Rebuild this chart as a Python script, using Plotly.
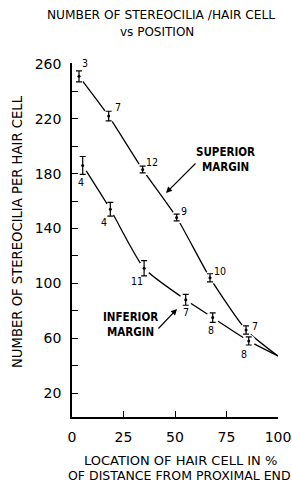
import plotly.graph_objects as go

# Data
sup_x = [3.4, 17.8, 34.3, 50.8, 67.0, 84.5]
sup_y = [251, 222, 183, 148, 104, 66]
sup_err = [4, 3.5, 2.5, 2.5, 3, 3]
sup_n = ["3", "7", "12", "9", "10", "7"]

inf_x = [5.2, 18.6, 35.0, 55.2, 68.3, 85.8]
inf_y = [186, 154, 111, 88, 75, 58]
inf_err = [6.5, 5, 5.5, 4, 3.5, 3]
inf_n = ["4", "4", "11", "7", "8", "8"]

end_x = [100]
end_y = [47]

x_ticks = [0, 25, 50, 75, 100]
y_ticks = [20, 60, 100, 140, 180, 220, 260]
y_minor = [40, 80, 120, 160, 200, 240]

FONT = "DejaVu Sans Condensed"
WIDE = "DejaVu Sans"

W, H = 292, 485
L, T = 72, 63
PW, PH = 206, 354
R, B = W - L - PW, H - T - PH

fig = go.Figure()

for xs, ys in [(sup_x, sup_y), (inf_x, inf_y)]:
    fig.add_trace(go.Scatter(x=xs + end_x, y=ys + end_y, mode="lines",
                             line=dict(color="black", width=1.3, shape="spline", smoothing=0.6),
                             hoverinfo="skip", showlegend=False))
for xs, ys in [(sup_x, sup_y), (inf_x, inf_y)]:
    fig.add_trace(go.Scatter(x=xs, y=ys, mode="markers",
                             marker=dict(color="white", size=13),
                             hoverinfo="skip", showlegend=False))
for xs, ys, es in [(sup_x, sup_y, sup_err), (inf_x, inf_y, inf_err)]:
    fig.add_trace(go.Scatter(x=xs, y=ys, mode="markers",
                             marker=dict(color="black", size=3),
                             error_y=dict(type="data", array=es, visible=True,
                                          color="black", thickness=1.2, width=3),
                             showlegend=False))

sup_off = [(6, 13), (9, 9), (9, 8), (7, 7), (10, 7), (9, 4)]
inf_off = [(-2, -17), (-6, -13), (-7, -13), (0, -12), (-2, -12), (-5, -13)]
for xs, ys, ns, offs in [(sup_x, sup_y, sup_n, sup_off), (inf_x, inf_y, inf_n, inf_off)]:
    for x, y, n, (dx, dy) in zip(xs, ys, ns, offs):
        fig.add_annotation(x=x, y=y, text=n, showarrow=False, xshift=dx, yshift=dy,
                           font=dict(family=FONT, size=10.5, color="black"))

def px2x(px):
    return (px - 72) / 2.06

def px2y(py):
    return 260 - (py - 64) / 1.371

def ppx(px):  # page px -> paper x
    return (px - L) / PW

def ppy(py):  # page px -> paper y
    return 1 - (py - T) / PH

fig.add_annotation(x=px2x(166), y=px2y(193), ax=px2x(197), ay=px2y(162),
                   axref="x", ayref="y", showarrow=True, arrowhead=2, arrowsize=1,
                   arrowwidth=1.2, arrowcolor="black", text="")
fig.add_annotation(x=px2x(225), y=px2y(160), text="<b>SUPERIOR<br>MARGIN</b>", showarrow=False,
                   font=dict(family=FONT, size=11.5, color="black"))
fig.add_annotation(x=px2x(177), y=px2y(309), ax=px2x(157), ay=px2y(330),
                   axref="x", ayref="y", showarrow=True, arrowhead=2, arrowsize=1,
                   arrowwidth=1.2, arrowcolor="black", text="")
fig.add_annotation(x=px2x(130), y=px2y(325), text="<b>INFERIOR<br>MARGIN</b>", showarrow=False,
                   font=dict(family=FONT, size=11.5, color="black"))

# Titles as annotations in paper coords
fig.add_annotation(x=ppx(160.5), y=ppy(15), xref="paper", yref="paper", showarrow=False,
                   text="NUMBER OF STEREOCILIA /HAIR CELL", xanchor="center", yanchor="middle",
                   font=dict(family=WIDE, size=12.2, color="black"))
fig.add_annotation(x=ppx(157), y=ppy(32), xref="paper", yref="paper", showarrow=False,
                   text="vs POSITION", xanchor="center", yanchor="middle",
                   font=dict(family=WIDE, size=12, color="black"))
fig.add_annotation(x=ppx(17), y=ppy(232), xref="paper", yref="paper", showarrow=False,
                   text="NUMBER OF STEREOCILIA PER HAIR CELL", textangle=-90,
                   xanchor="center", yanchor="middle",
                   font=dict(family=WIDE, size=13.2, color="black"))
fig.add_annotation(x=ppx(180), y=ppy(460), xref="paper", yref="paper", showarrow=False,
                   text="LOCATION OF HAIR CELL IN %", xanchor="center", yanchor="middle",
                   font=dict(family=WIDE, size=13, color="black"))
fig.add_annotation(x=ppx(179.5), y=ppy(475), xref="paper", yref="paper", showarrow=False,
                   text="OF DISTANCE FROM PROXIMAL END", xanchor="center", yanchor="middle",
                   font=dict(family=WIDE, size=12.5, color="black"))

fig.update_layout(
    width=W, height=H,
    margin=dict(l=L, r=R, t=T, b=B, autoexpand=False),
    paper_bgcolor="white", plot_bgcolor="white",
    font=dict(family=WIDE, color="black"),
    xaxis=dict(range=[0, 100], tickvals=x_ticks, ticks="inside", ticklen=6,
               showline=True, linecolor="black", linewidth=1.5, showgrid=False, zeroline=False,
               tickfont=dict(size=14), tickcolor="black", ticklabelstandoff=6,
               automargin=False),
    yaxis=dict(range=[2.5, 260.7], tickvals=y_ticks, ticks="inside", ticklen=6,
               showline=True, linecolor="black", linewidth=1.5, showgrid=False, zeroline=False,
               tickfont=dict(size=14), tickcolor="black", ticklabelstandoff=6,
               automargin=False,
               minor=dict(tickvals=y_minor, ticks="inside", ticklen=6, tickcolor="black")),
)

fig.write_html("out.html", post_script="document.body.style.margin='0';",
               config={"displayModeBar": False})
